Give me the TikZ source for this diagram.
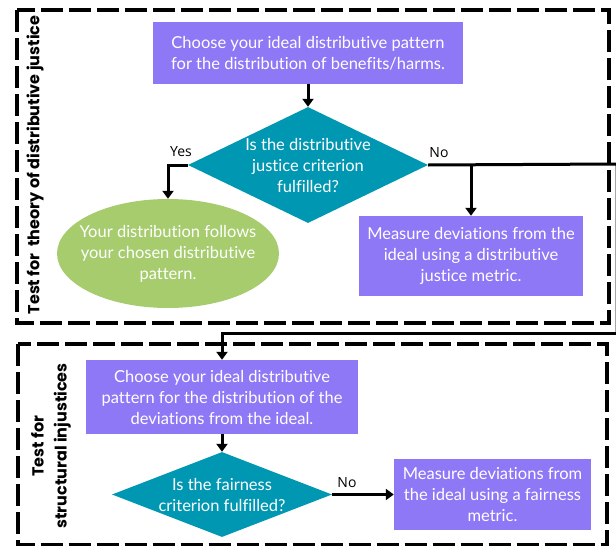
\documentclass[tikz,border=0pt]{standalone}
\usepackage{fontspec}
\setmainfont{Lato}[Ligatures=NoCommon]
\newfontfamily\headfont{Poppins}
\newfontfamily\answerfont{Open Sans}
\usetikzlibrary{shapes.geometric,arrows.meta}

\definecolor{stepviolet}{HTML}{8F78F6}
\definecolor{checkteal}{HTML}{0097B2}
\definecolor{okgreen}{HTML}{A6CC6E}

\begin{document}
\begin{tikzpicture}[x=1pt,y=-1pt,
		stepbox/.style={fill=stepviolet, text=white, inner sep=0pt, align=center, font=\fontsize{16.5}{21}\selectfont},
		check/.style={diamond, fill=checkteal, inner sep=0pt},
		intext/.style={text=white, align=center, font=\fontsize{16.5}{21}\selectfont},
		flow/.style={line width=3pt, -{Triangle[width=11pt,length=8pt]}},
		link/.style={line width=3pt},
		answer/.style={font=\answerfont\fontsize{14}{17}\selectfont},
		testframe/.style={line width=4.5pt, dash pattern=on 22pt off 6pt},
		sidelabel/.style={rotate=90, align=center, font=\headfont\bfseries\fontsize{16}{23}\selectfont}]
		\useasboundingbox (0,0) rectangle (616,546);
		
		% first test
		\draw [testframe] (17,10) rectangle (609,323);
		\node [sidelabel] (lab1) at (35,165) {Test for~~theory of distributive justice};
		
		\node [stepbox, minimum width=310pt, minimum height=62pt] (ideal1) at (308,53)
		{Choose your ideal distributive pattern\\for the distribution of benefits/harms.};
		\node [check, minimum width=240pt, minimum height=116pt,
		label={[intext]center:{Is the distributive\\justice criterion\\fulfilled?}}] (crit1) at (308,165) {};
		\node [ellipse, fill=okgreen, inner sep=0pt, minimum width=222pt, minimum height=109pt,
		label={[intext]center:{Your distribution follows\\your chosen distributive\\pattern.}}] (follow) at (168,253.5) {};
		\node [stepbox, minimum width=224pt, minimum height=80pt] (metric1) at (471,256)
		{Measure deviations from the\\ideal using a distributive\\justice metric.};
		
		\node [answer] (yes1) at (181,152) {Yes};
		\node [answer] (no1) at (439,153) {No};
		
		\draw [flow] (ideal1) -- (crit1);
		\draw [flow] (crit1.west) -| (follow.north);
		\coordinate (split) at (metric1.north |- crit1.east);
		\draw [flow] (split) -- (metric1.north);
		
		% second test
		\draw [testframe] (18,344) rectangle (607,545.5);
		\node [sidelabel] (lab2) at (51,446) {Test for\\structural injustices};
		
		\node [stepbox, minimum width=272pt, minimum height=74pt] (ideal2) at (222,397)
		{Choose your ideal distributive\\pattern for the distribution of the\\deviations from the ideal.};
		\node [check, minimum width=220pt, minimum height=85pt,
		label={[intext]center:{Is the fairness\\criterion fulfilled?}}] (crit2) at (222,494.5) {};
		\node [stepbox, minimum width=197pt, minimum height=71pt] (metric2) at (492.5,494.5)
		{Measure deviations from\\the ideal using a fairness\\metric.};
		
		\node [answer] (no2) at (347,483) {No};
		
		\coordinate (turnA) at (617,164);
		\coordinate (turnB) at (617,333.5);
		\draw [link] (crit1.east) -- (turnA) -- (turnB);
		\draw [flow] (turnB) -| (ideal2.north);
		\draw [flow] (ideal2) -- (crit2);
		\draw [flow] (crit2.east) -- (metric2.west);
		
\end{tikzpicture}
\end{document}
